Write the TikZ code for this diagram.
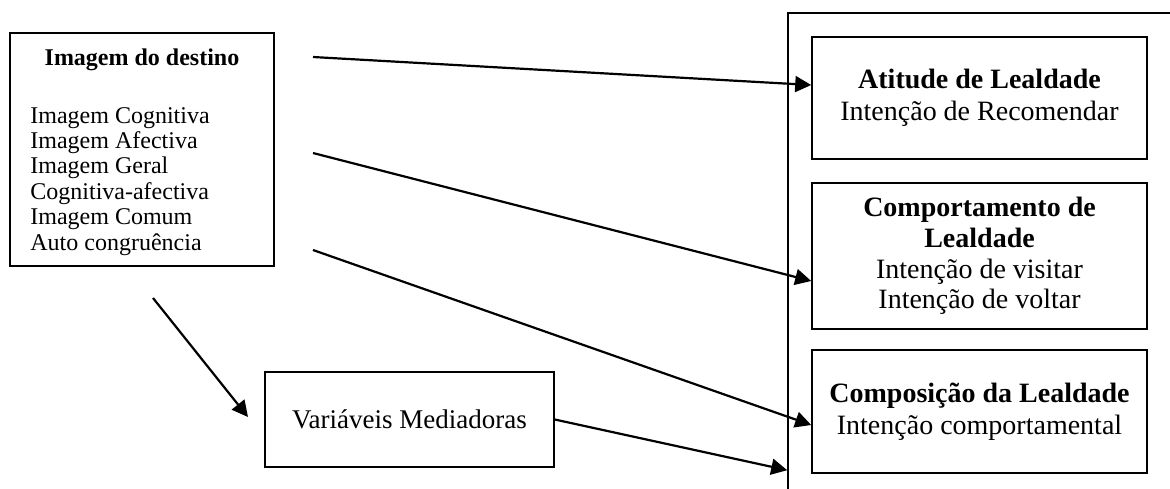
\documentclass[tikz,border=0pt]{standalone}
\usepackage{fontspec}
\setmainfont{Liberation Serif}
\usetikzlibrary{arrows.meta,calc}
\begin{document}
\begin{tikzpicture}[x=0.5pt,y=-0.5pt,
  box/.style={draw, line width=0.8pt, rectangle, inner sep=0pt},
  outcome/.style={box, minimum width=167.5pt, align=center,
    font=\fontsize{14}{15.8}\selectfont},
  link/.style={line width=1.1pt, -{Triangle[length=8pt,width=8pt]}}]
\useasboundingbox (0,0) rectangle (1170,488);

% group frame on the right (open to the right and bottom)
\node[box, minimum width=201pt, minimum height=243.5pt] (grupo) at (989,256.5) {};

% source box
\node[box, minimum width=132pt, minimum height=116.5pt] (imagem) at (142,149.5) {};
\node[anchor=base, inner sep=0pt, font=\fontsize{12}{14}\selectfont\bfseries] (imgtitulo) at (142,65) {Imagem do destino};
% the base anchor of a multi-line node sits on its last line
\node[anchor=base west, align=left, inner sep=0pt, font=\fontsize{12}{12.7}\selectfont] (imglista) at (30,250)
  {Imagem Cognitiva\\Imagem Afectiva\\Imagem Geral\\Cognitiva-afectiva\\Imagem Comum\\Auto congruência};

% mediating variables
\node[box, minimum width=144.5pt, minimum height=47.5pt, font=\fontsize{13.5}{15}\selectfont] (mediadoras) at (409.5,419.5) {Variáveis Mediadoras};

% loyalty outcomes
\node[outcome, minimum height=61pt] (atitude) at (979.5,98)
  {\textbf{Atitude de Lealdade}\\Intenção de Recomendar};
\node[outcome, minimum height=73pt, font=\fontsize{14}{15.3}\selectfont] (comport) at (979.5,256)
  {\textbf{Comportamento de}\\\textbf{Lealdade}\\Intenção de visitar\\Intenção de voltar};
\node[outcome, minimum height=61.5pt] (compos) at (979.5,411.5)
  {\textbf{Composição da Lealdade}\\Intenção comportamental};

% free arrow ends
\coordinate (s1) at (313,57);
\coordinate (s2) at (313,153);
\coordinate (s3) at (313,250);
\coordinate (d1) at (153,298);
\coordinate (d2) at (248,417);

\draw[link] (s1) -- ([yshift=6.5pt]atitude.west);
\draw[link] (s2) -- ([yshift=-12.5pt]comport.west);
\draw[link] (s3) -- ([yshift=-6.75pt]compos.west);
\draw[link] (mediadoras.east) -- ($(grupo.north west)+(0,458)$);
\draw[link] (d1) -- (d2);
\end{tikzpicture}
\end{document}
